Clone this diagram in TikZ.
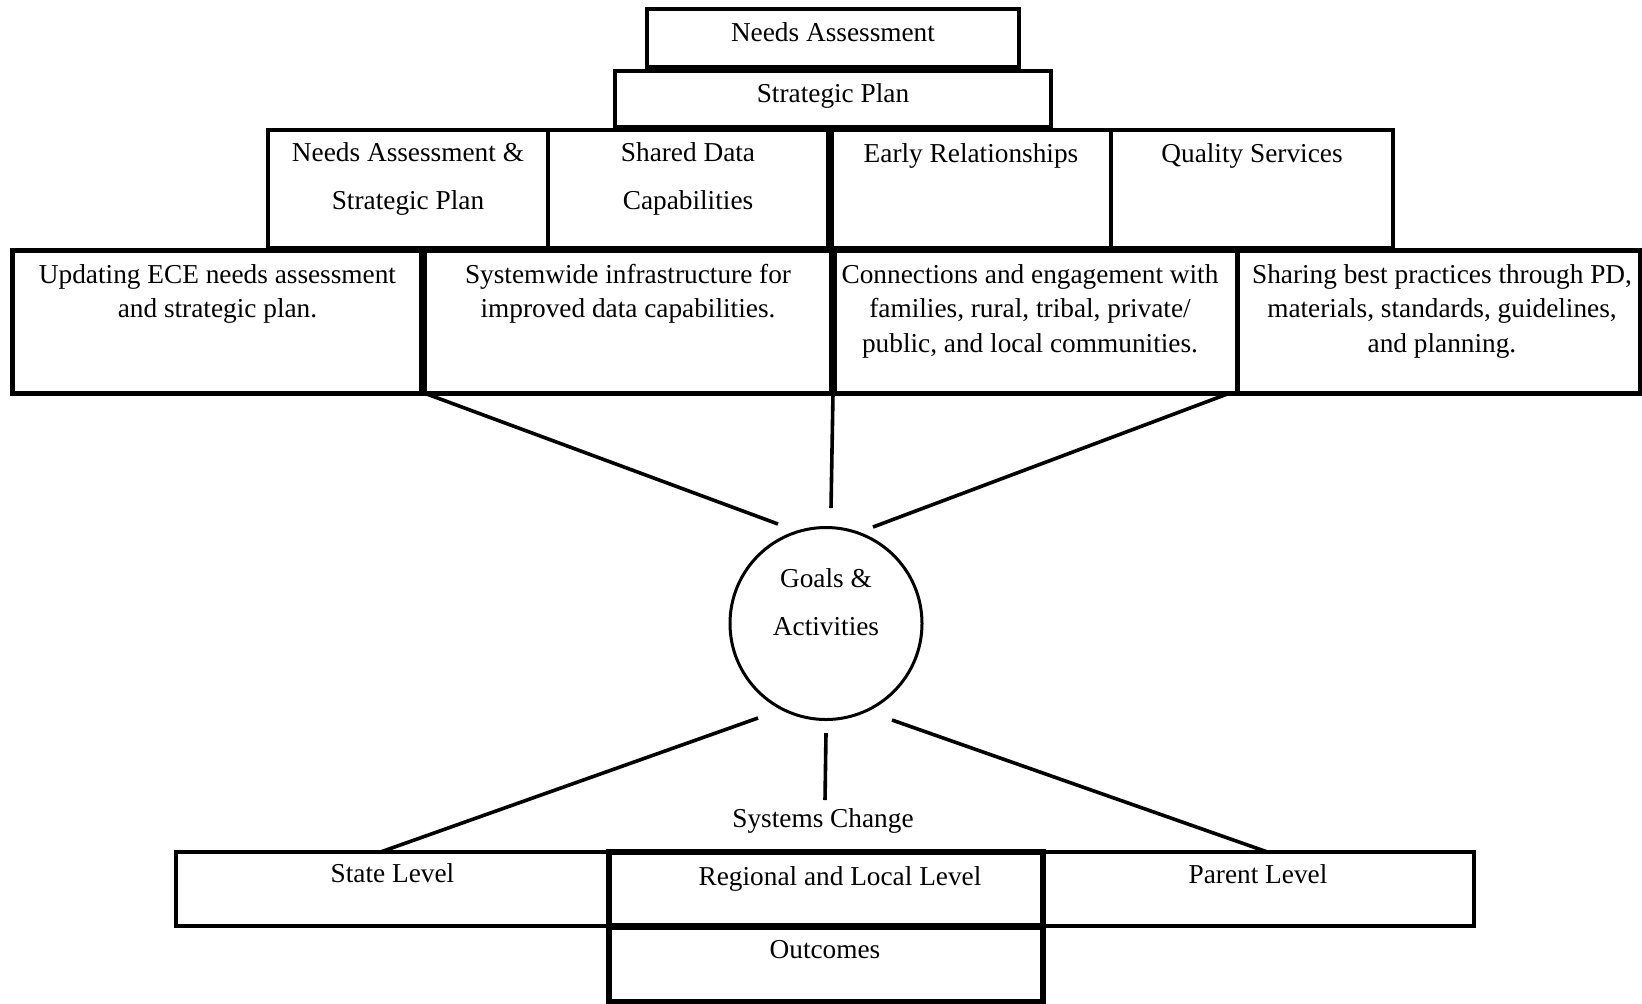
\documentclass[tikz,border=0pt]{standalone}
\usepackage{fontspec}
\setmainfont{Liberation Serif}
\usetikzlibrary{calc}
\begin{document}
\begin{tikzpicture}[x=0.5pt,y=-0.5pt,
  box/.style={draw, line width=2.3pt, rectangle, anchor=north west, inner sep=0pt, outer sep=0pt},
  txt/.style={anchor=base, inner sep=0pt, align=center, font=\fontsize{13.65}{17.25}\selectfont},
  wide/.style={font=\fontsize{13.65}{23.75}\selectfont},
  conn/.style={line width=1.8pt}]
\useasboundingbox (0,0) rectangle (1642,1003);
\clip (0,0) rectangle (1642,1003);
\fill[white] (0,0) rectangle (1642,1003);
% top boxes
\node[box, minimum width=186pt, minimum height=29pt] (na) at (647,9) {};
\node[box, minimum width=218pt, minimum height=28pt] (sp) at (615,71) {};
% row 3
\node[box, minimum width=140pt, minimum height=59pt] (r31) at (268,130) {};
\node[box, minimum width=140pt, minimum height=59pt] (r32) at (548,130) {};
\node[box, minimum width=139.5pt, minimum height=59pt] (r33) at (832,130) {};
\node[box, minimum width=141pt, minimum height=59pt] (r34) at (1111,130) {};
% row 4
\node[box, line width=2.5pt, minimum width=204.5pt, minimum height=71.5pt] (r41) at (12,250) {};
\node[box, line width=2.5pt, minimum width=203.5pt, minimum height=71.5pt] (r42) at (424,250) {};
\node[box, line width=2.5pt, minimum width=201.5pt, minimum height=71.5pt] (r43) at (834,250) {};
\node[box, line width=2.5pt, minimum width=201.5pt, minimum height=71.5pt] (r44) at (1237,250) {};
% circle
\node[circle, draw, line width=1.5pt, minimum size=96pt, inner sep=0pt] (goal) at (826,623.5) {};
% bottom boxes
\node[box, minimum width=216.5pt, minimum height=37pt] (state) at (176,852) {};
\node[box, minimum width=215.5pt, minimum height=37pt] (parent) at (1043,852) {};
\node[box, line width=2.6pt, minimum width=217pt, minimum height=37.5pt] (outc) at (609,927) {};
\node[box, line width=2.6pt, minimum width=217pt, minimum height=37pt] (regional) at (609,852) {};
% texts (anchor base = baseline of the last line)
\node[txt] (tna) at (833,41) {Needs Assessment};
\node[txt] (tsp) at (833,102) {Strategic Plan};
\node[txt, wide] (t31) at (408,209) {Needs Assessment \&\\Strategic Plan};
\node[txt, wide] (t32) at (688,209) {Shared Data\\Capabilities};
\node[txt] (t33) at (971,162) {Early Relationships};
\node[txt] (t34) at (1252,162) {Quality Services};
\node[txt] (t41) at (217.5,317.5) {Updating ECE needs assessment\\and strategic plan.};
\node[txt] (t42) at (628,317.5) {Systemwide infrastructure for\\improved data capabilities.};
\node[txt] (t43) at (1030,352) {Connections and engagement with\\families, rural, tribal, private/\\public, and local communities.};
\node[txt] (t44) at (1442,352) {Sharing best practices through PD,\\materials, standards, guidelines,\\and planning.};
\node[txt, wide] (tgoal) at (826,635) {Goals \&\\Activities};
\node[txt] (tsys) at (823,827) {Systems Change};
\node[txt] (tstate) at (392.5,882) {State Level};
\node[txt] (treg) at (840,885) {Regional and Local Level};
\node[txt] (tpar) at (1258,883) {Parent Level};
\node[txt] (tout) at (825,958) {Outcomes};
% connectors
\coordinate (e1) at (778,524);
\coordinate (e2) at (831,508);
\coordinate (e3) at (873,527);
\coordinate (b1) at (758,718);
\coordinate (b2) at (826,733);
\coordinate (b2e) at (825,800);
\coordinate (b3) at (892,720);
\draw[conn] (r42.south west) -- (e1);
\draw[conn] ($(r43.south west)+(-1,0)$) -- (e2);
\draw[conn] ($(r44.south west)+(-7,0)$) -- (e3);
\draw[conn] (b1) -- ($(state.north)+(-12,0)$);
\draw[conn] (b2) -- (b2e);
\draw[conn] (b3) -- ($(parent.north)+(9,0)$);
\end{tikzpicture}
\end{document}
